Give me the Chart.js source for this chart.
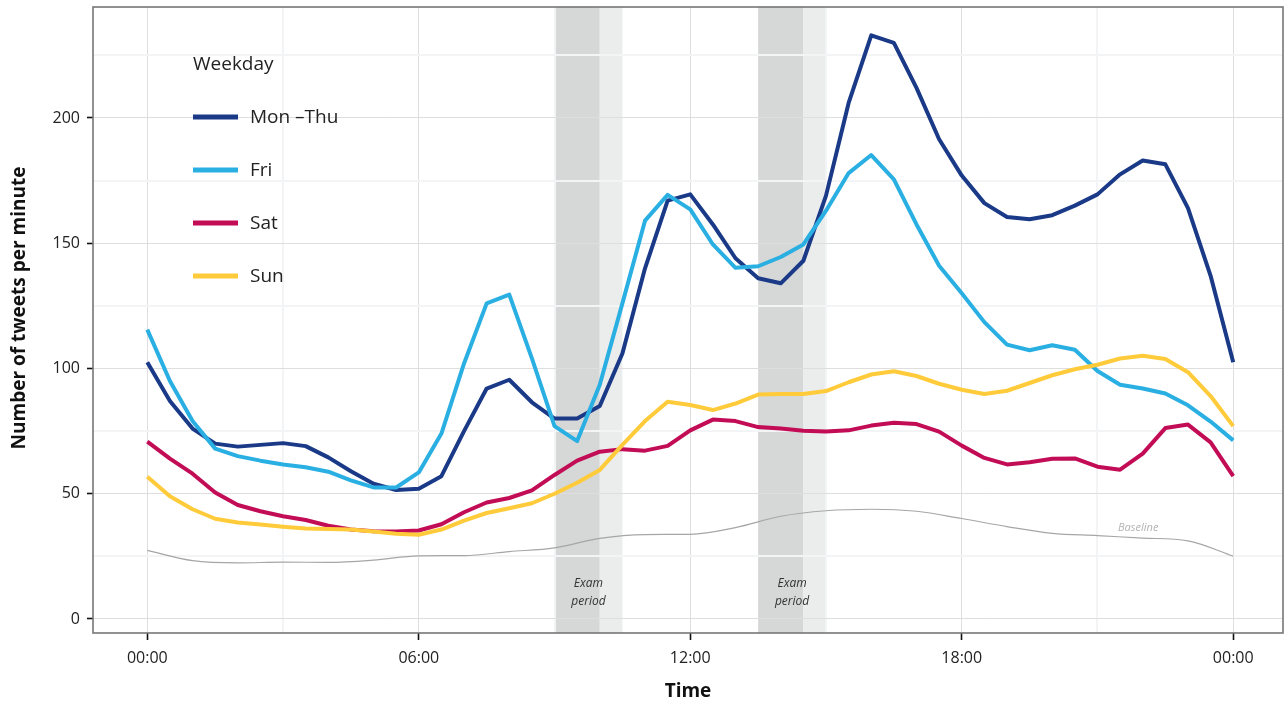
<!DOCTYPE html>
<html><head><meta charset="utf-8">
<script src="https://cdn.jsdelivr.net/npm/chart.js@4.4.1/dist/chart.umd.min.js"></script>
<style>html,body{margin:0;padding:0;background:#fff;}#wrap{width:1285px;height:709px;}</style>
</head><body><div id="wrap"><canvas id="c" width="1285" height="709"></canvas></div>
<script>
// ---- data ----
const hours = [0,0.5,1,1.5,2,2.5,3,3.5,4,4.5,5,5.5,6,6.5,7,7.5,8,8.5,9,9.5,10,10.5,11,11.5,12,12.5,13,13.5,14,14.5,15,15.5,16,16.5,17,17.5,18,18.5,19,19.5,20,20.5,21,21.5,22,22.5,23,23.5,24];
const monThu = [102.5,87,76,70,68.8,69.5,70.2,69,64.5,59,54,51.5,52,57,75,92,95.5,86.5,80,80,85,106,140,167,169.5,157.5,144,136,134,143,169,206,233,230,212,191.5,177,166,160.5,159.6,161.2,165,169.5,177.5,183,181.5,164,137,102.5];
const fri = [115.5,95,79,68,65,63.2,61.7,60.6,58.8,55.3,52.5,52.5,58.5,74,102,126,129.5,104,77,71,93.5,126,159,169.3,163.5,149.5,140.2,140.8,144.5,149.5,163,178,185.2,175.5,157.5,141,130,118.5,109.5,107.3,109.3,107.5,99,93.5,92,90,85.3,78.8,71.3];
const sat = [70.8,64,58,50.5,45.5,43,41,39.5,37.2,35.7,35,34.9,35.3,37.8,42.6,46.5,48.3,51.3,57.5,63.2,66.8,67.8,67.2,69.1,75.3,79.6,79,76.6,76,75.1,74.8,75.3,77.2,78.3,77.8,74.8,69.2,64.3,61.7,62.6,64,64.1,60.8,59.6,66,76.2,77.6,70.5,57];
const sun = [56.8,49,43.8,40,38.5,37.7,36.8,36.1,35.9,35.7,34.9,34,33.6,35.7,39.3,42.3,44.2,46.2,50,54.4,59.5,69.5,79,86.7,85.4,83.4,86,89.6,89.8,89.8,91,94.5,97.6,98.9,97,93.9,91.5,89.8,91.1,94.2,97.3,99.7,101.5,104,105.1,103.8,98.5,89,77];
const baselineHours = [0,1,2,3,4,5,6,7,8,9,10,11,12,13,14,15,16,17,18,19,20,21,22,23,24];
const baseline = [27.4,23.3,22.4,22.7,22.6,23.5,25.2,25.3,26.9,28.4,32.2,33.7,33.8,36.5,41,43.2,43.8,43,40.1,36.9,34.2,33.3,32.3,31.2,25.1];
const seriesNames = ['Mon \u2013Thu','Fri','Sat','Sun'];
const legendTitle = 'Weekday';
// exam periods: [start, end of dark part, end of light part] in hours
const examPeriods = [[9,10,10.5],[13.5,14.5,15]];
const examLabel = ['Exam','period'];
const baselineLabel = {text:'Baseline', x:21.9, y:36.5};
const xTickValues = [0,3,6,9,12,15,18,21,24];
const xTickLabels = {0:'00:00',6:'06:00',12:'12:00',18:'18:00',24:'00:00'};
const yTickValues = [0,25,50,75,100,125,150,175,200,225];
const xTitle = 'Time';
const yTitle = 'Number of tweets per minute';

// ---- styles ----
const colors = ['#1a3a88','#2aafe3','#c20c55','#ffcb3a'];
const FONT = '"Open Sans", "Noto Sans", sans-serif';
Chart.defaults.font.family = FONT;

const toPts = (xs, ys) => xs.map((x,i)=>({x:x, y:ys[i]}));
const seriesValues = [monThu, fri, sat, sun];

const datasets = seriesValues.map((vals,i)=>({
  label: seriesNames[i], data: toPts(hours, vals), borderColor: colors[i],
  borderWidth: 4, pointRadius: 0, tension: 0, fill:false, order: 4-i,
  borderJoinStyle:'round'
}));
datasets.push({label:'Baseline', data: toPts(baselineHours, baseline), borderColor:'#a6a6a6',
  borderWidth:1.2, pointRadius:0, tension:0.4, cubicInterpolationMode:'monotone', fill:false, order: 9});

const decor = {
  id:'decor',
  beforeDraw(chart){
    const {ctx, chartArea:a, scales:{x}} = chart;
    ctx.save();
    examPeriods.forEach(p=>{
      const x0 = x.getPixelForValue(p[0]), x1 = x.getPixelForValue(p[1]), x2 = x.getPixelForValue(p[2]);
      ctx.fillStyle = '#d6d7d7'; ctx.fillRect(x0, a.top, x1-x0, a.bottom-a.top);
      ctx.fillStyle = '#ebecec'; ctx.fillRect(x1, a.top, x2-x1, a.bottom-a.top);
    });
    ctx.restore();
  },
  afterDatasetsDraw(chart){
    const {ctx, chartArea:a, scales:{x,y}} = chart;
    ctx.save();
    // panel border
    ctx.strokeStyle = '#767676'; ctx.lineWidth = 1.6;
    ctx.strokeRect(a.left, a.top, a.right-a.left, a.bottom-a.top);
    // exam labels
    ctx.fillStyle = '#333'; ctx.font = 'italic 12px ' + FONT;
    ctx.textAlign = 'center'; ctx.textBaseline = 'middle';
    examPeriods.forEach(p=>{
      const cx = x.getPixelForValue((p[0]+p[2])/2);
      ctx.fillText(examLabel[0], cx, y.getPixelForValue(14));
      ctx.fillText(examLabel[1], cx, y.getPixelForValue(7));
    });
    // baseline label
    ctx.fillStyle = '#b3b3b3'; ctx.font = 'italic 11px ' + FONT;
    ctx.fillText(baselineLabel.text, x.getPixelForValue(baselineLabel.x), y.getPixelForValue(baselineLabel.y));
    // legend
    const lx = a.left + 100, ly = 65, gap = 53;
    ctx.textAlign = 'left'; ctx.fillStyle = '#222'; ctx.font = '19px ' + FONT;
    ctx.fillText(legendTitle, lx, ly);
    chart.data.datasets.slice(0,4).forEach((d,i)=>{
      const yy = ly - 1 + gap*(i+1);
      ctx.strokeStyle = d.borderColor; ctx.lineWidth = 5; ctx.lineCap='butt';
      ctx.beginPath(); ctx.moveTo(lx, yy); ctx.lineTo(lx+45, yy); ctx.stroke();
      ctx.fillStyle = '#222';
      ctx.fillText(d.label, lx+57, yy+1);
    });
    // axis titles
    ctx.fillStyle = '#111'; ctx.font = 'bold 19px ' + FONT; ctx.textAlign='center';
    ctx.fillText(xTitle, (a.left+a.right)/2, 692);
    ctx.translate(20, 308); ctx.rotate(-Math.PI/2);
    ctx.fillText(yTitle, 0, 0);
    ctx.restore();
  }
};

const isMajorX = v => v % 6 === 0;
const isMajorY = v => v % 50 === 0;

new Chart(document.getElementById('c'), {
  type:'line',
  data:{datasets},
  options:{
    responsive:false, animation:false, devicePixelRatio:1,
    layout:{padding:{left:0,right:2,top:7,bottom:0}},
    plugins:{legend:{display:false}, tooltip:{enabled:false}},
    scales:{
      x:{type:'linear', min:-1.2, max:25.1,
        afterBuildTicks: s => { s.ticks = xTickValues.map(v=>({value:v})); },
        afterFit: s => { s.height = 76; s.paddingLeft = 0; s.paddingRight = 0; },
        ticks:{autoSkip:false, maxRotation:0, padding:9, color:'#222', font:{size:16},
          callback: v => (xTickLabels[v] !== undefined ? xTickLabels[v] : '')},
        grid:{color: c => isMajorX(c.tick.value) ? '#dedede' : '#f3f4f5',
          lineWidth: c => isMajorX(c.tick.value) ? 1 : 2,
          tickLength:7, tickWidth:1.6,
          tickColor: c => isMajorX(c.tick.value) ? '#111' : 'rgba(0,0,0,0)'},
        border:{display:false}
      },
      y:{type:'linear', min:-5.6, max:244.3,
        afterBuildTicks: s => { s.ticks = yTickValues.map(v=>({value:v})); },
        afterFit: s => { s.width = 93; s.paddingTop = 0; s.paddingBottom = 0; },
        ticks:{autoSkip:false, padding:7, color:'#222', font:{size:16},
          callback: v => (isMajorY(v) ? String(v) : '')},
        grid:{color: c => isMajorY(c.tick.value) ? '#dedede' : '#f3f4f5',
          lineWidth: c => isMajorY(c.tick.value) ? 1 : 2,
          tickLength:6, tickWidth:1.6,
          tickColor: c => isMajorY(c.tick.value) ? '#111' : 'rgba(0,0,0,0)'},
        border:{display:false}
      }
    }
  },
  plugins:[decor]
});
</script></body></html>
